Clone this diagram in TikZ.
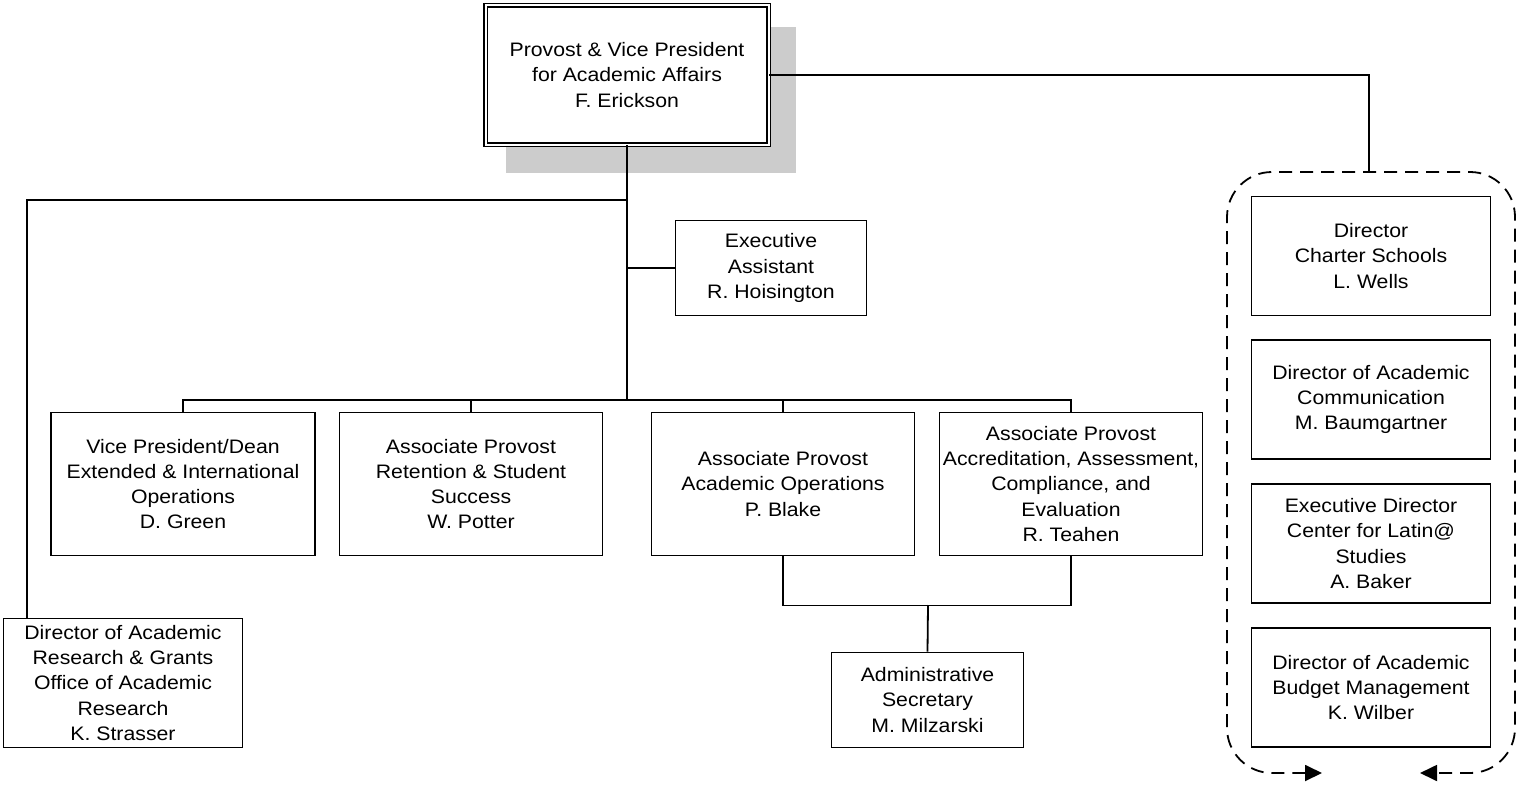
\documentclass[tikz,border=0pt]{standalone}
\usepackage{fontspec}
\setmainfont{Liberation Sans}[FakeStretch=1.09]
\usetikzlibrary{arrows.meta}
\begin{document}
\begin{tikzpicture}[x=1pt,y=-1pt,
  orgbox/.style={draw, line width=1.8pt, fill=white, align=center, inner sep=0pt,
    font=\fontsize{19.5}{25.3}\selectfont},
  conn/.style={line width=1.8pt},
  grp/.style={line width=1.8pt, dash pattern=on 13pt off 8pt, rounded corners=45pt,
    {Triangle[length=17pt,width=16pt]}-{Triangle[length=17pt,width=16pt]}}]
\useasboundingbox (0,0) rectangle (1517,784);
% shadow of the top box
\fill[black!20] (506,27) rectangle (796,173);
% nodes
\node[orgbox, double, line width=1.4pt, double distance=2pt,
  minimum width=283pt, minimum height=139pt] (top) at (627,75)
  {Provost \& Vice President\\for Academic Affairs\\F. Erickson};
\node[orgbox, minimum width=191pt, minimum height=95pt] (exec) at (771,268)
  {Executive\\Assistant\\R. Hoisington};
\node[orgbox, minimum width=264pt, minimum height=143pt] (b1) at (183,484)
  {Vice President/Dean\\Extended \& International\\Operations\\D. Green};
\node[orgbox, minimum width=263pt, minimum height=143pt] (b2) at (471,484)
  {Associate Provost\\Retention \& Student\\Success\\W. Potter};
\node[orgbox, minimum width=263pt, minimum height=143pt] (b3) at (783,484)
  {Associate Provost\\Academic Operations\\P. Blake};
\node[orgbox, minimum width=263pt, minimum height=143pt] (b4) at (1071,484)
  {Associate Provost\\Accreditation, Assessment,\\Compliance, and\\Evaluation\\R. Teahen};
\node[orgbox, minimum width=239pt, minimum height=129pt] (research) at (123,683)
  {Director of Academic\\Research \& Grants\\Office of Academic\\Research\\K. Strasser};
\node[orgbox, minimum width=192pt, minimum height=95pt] (admin) at (927.5,700)
  {Administrative\\Secretary\\M. Milzarski};
\node[orgbox, minimum width=239pt, minimum height=119pt] (r1) at (1371,256)
  {Director\\Charter Schools\\L. Wells};
\node[orgbox, minimum width=239pt, minimum height=119pt] (r2) at (1371,399.5)
  {Director of Academic\\Communication\\M. Baumgartner};
\node[orgbox, minimum width=239pt, minimum height=119pt] (r3) at (1371,543.5)
  {Executive Director\\Center for Latin@\\Studies\\A. Baker};
\node[orgbox, minimum width=239pt, minimum height=119pt] (r4) at (1371,687.5)
  {Director of Academic\\Budget Management\\K. Wilber};
% junction coordinates
\coordinate (j1) at (627,200);
\coordinate (j2) at (627,268);
\coordinate (j3) at (627,400);
\coordinate (rl) at (27,200);
\coordinate (grouptop) at (1369,172);
\coordinate (mid) at (928,605);
% connectors
\draw[conn] (top.south) -- (j3);
\draw[conn] (j1) -- (rl) -- (rl |- research.north);
\draw[conn] (j2) -- (exec.west);
\draw[conn] (b1.north) -- ++(0,-12) -| (b4.north);
\draw[conn] (b2.north) -- ++(0,-12);
\draw[conn] (b3.north) -- ++(0,-12);
\draw[conn] (top.east) -- (top.east -| grouptop) -- (grouptop);
\draw[conn] (b3.south) -- ++(0,49) -| (b4.south);
\draw[conn] (mid) -- (admin.north);
% dashed group outline
\draw[grp] (1322,773) -- (1227,773) -- (1227,172) -- (1515,172) -- (1515,773) -- (1420,773);
\end{tikzpicture}
\end{document}
